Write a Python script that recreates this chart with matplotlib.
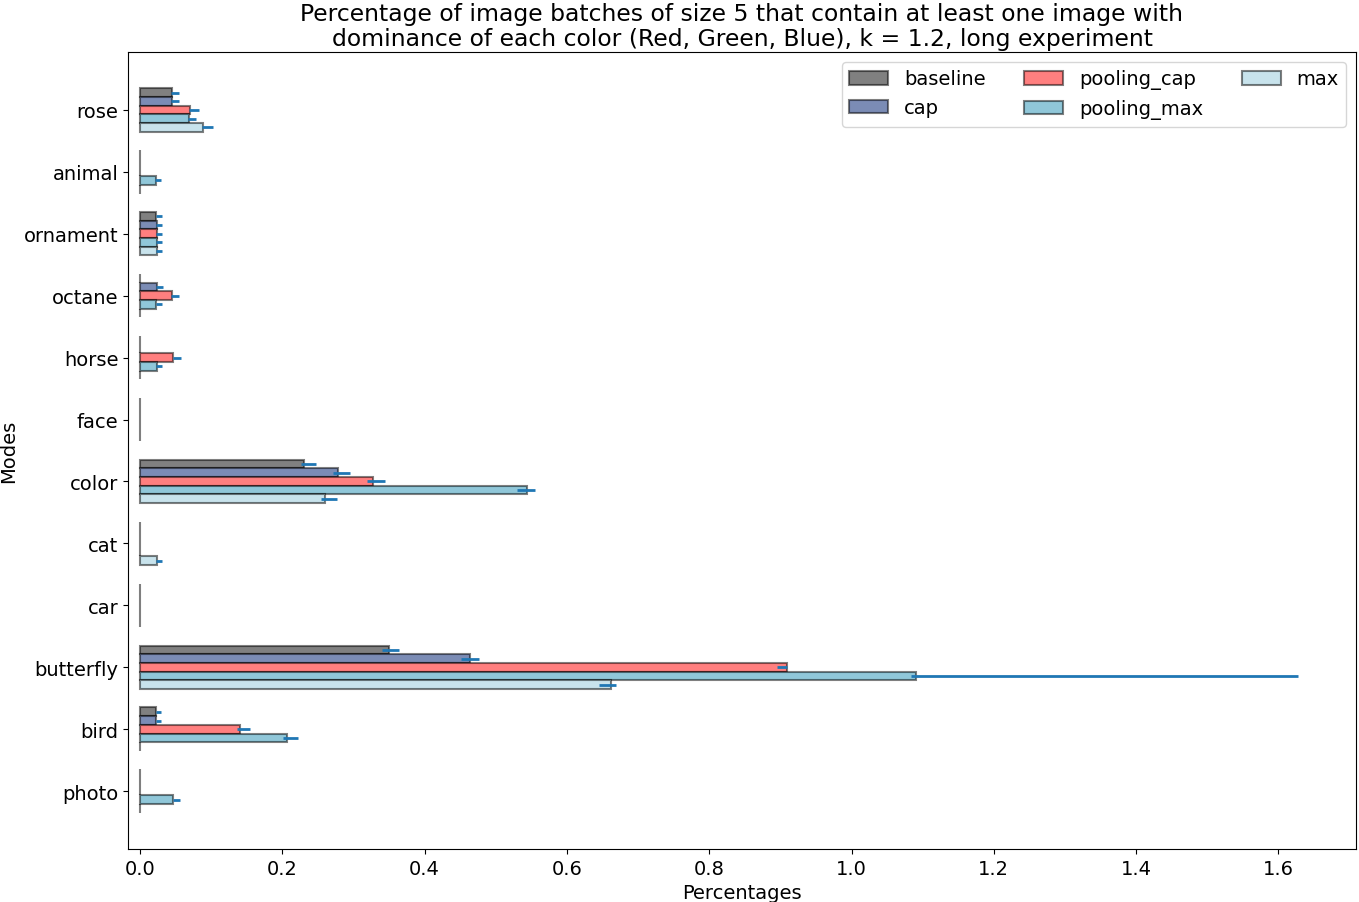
import matplotlib
matplotlib.use("Agg")
import matplotlib.pyplot as plt
import numpy as np

# categories listed top to bottom as in the chart
categories = ["rose", "animal", "ornament", "octane", "horse", "face",
              "color", "cat", "car", "butterfly", "bird", "photo"]
series_names = ["baseline", "cap", "pooling_cap", "pooling_max", "max"]

baseline = [0.045, 0, 0.023, 0, 0, 0, 0.231, 0, 0, 0.350, 0.023, 0]
baseline_lo = [0.001, 0, 0.001, 0, 0, 0, 0.005, 0, 0, 0.010, 0.0005, 0]
baseline_hi = [0.0094, 0, 0.008, 0, 0, 0, 0.016, 0, 0, 0.0146, 0.0062, 0]

cap = [0.045, 0, 0.024, 0.024, 0, 0, 0.279, 0, 0, 0.464, 0.023, 0]
cap_lo = [0.001, 0, 0.001, 0.001, 0, 0, 0.0075, 0, 0, 0.013, 0.0005, 0]
cap_hi = [0.0094, 0, 0.0066, 0.0081, 0, 0, 0.0164, 0, 0, 0.0118, 0.0062, 0]

pooling_cap = [0.071, 0, 0.024, 0.045, 0.047, 0, 0.328, 0, 0, 0.910, 0.140, 0]
pooling_cap_lo = [0.0018, 0, 0.001, 0.001, 0.001, 0, 0.0089, 0, 0, 0.0148, 0.0033, 0]
pooling_cap_hi = [0.0123, 0, 0.0066, 0.0094, 0.0108, 0, 0.0164, 0, 0, 0.0, 0.0146, 0]

pooling_max = [0.069, 0.0225, 0.024, 0.023, 0.024, 0, 0.544, 0, 0, 1.090, 0.206, 0.047]
pooling_max_lo = [0.0018, 0.001, 0.001, 0.001, 0.001, 0, 0.0145, 0, 0, 0.0065, 0.0047, 0.001]
pooling_max_hi = [0.0104, 0.0066, 0.0066, 0.008, 0.0066, 0, 0.0108, 0, 0, 0.538, 0.0159, 0.0089]

max_ = [0.089, 0, 0.024, 0, 0, 0, 0.2605, 0.024, 0, 0.662, 0, 0]
max_lo = [0.0018, 0, 0.001, 0, 0, 0, 0.006, 0.001, 0, 0.0173, 0, 0]
max_hi = [0.0132, 0, 0.0066, 0, 0, 0, 0.0164, 0.007, 0, 0.0076, 0, 0]

values = [baseline, cap, pooling_cap, pooling_max, max_]
err_lo = [baseline_lo, cap_lo, pooling_cap_lo, pooling_max_lo, max_lo]
err_hi = [baseline_hi, cap_hi, pooling_cap_hi, pooling_max_hi, max_hi]
colors = ["#808080", "#7b8cb5", "#ff7f7f", "#90c7d9", "#c8e3ec"]

fig = plt.figure(figsize=(13.59, 9.03), dpi=100)
ax = fig.add_axes([128 / 1359, 1 - 850 / 903, (1356 - 128) / 1359, (850 - 53) / 903])

n = len(categories)
pos = np.arange(n)[::-1]
h = 0.14
for i, (name, vals, lo, hi, col) in enumerate(zip(series_names, values, err_lo, err_hi, colors)):
    y = pos + (2 - i) * h
    ax.barh(y, vals, height=h, color=col, edgecolor=(0, 0, 0, 0.5),
            linewidth=1.5, label=name)
    ax.errorbar(vals, y, xerr=[lo, hi], fmt="none", ecolor="#1f77b4",
                elinewidth=2, capsize=0)

ax.set_yticks(pos)
ax.set_yticklabels(categories, fontsize=14)
ax.tick_params(axis="x", labelsize=14)
ax.set_xlim(-0.0168, 1.709)
ax.set_xlabel("Percentages", fontsize=14, labelpad=4)
ax.set_ylabel("Modes", fontsize=14)
ax.set_title("Percentage of image batches of size 5 that contain at least one image with\n"
             "dominance of each color (Red, Green, Blue), k = 1.2, long experiment",
             fontsize=16.9, pad=5, linespacing=1.12)
ax.legend(loc="upper right", ncol=3, fontsize=14)

fig.savefig("out.png", dpi=100)
